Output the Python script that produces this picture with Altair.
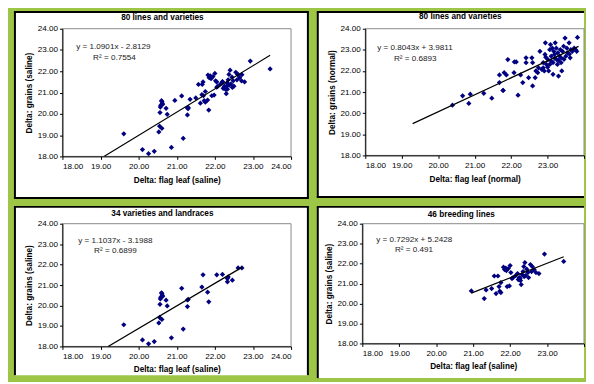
import altair as alt
import pandas as pd

FONT = "Liberation Sans"
TICKS = [18, 19, 20, 21, 22, 23, 24]

# 34 varieties and landraces (saline)
x3 = [19.61, 20.10, 20.26, 20.41, 20.53, 20.55, 20.61, 20.56, 20.57, 20.61, 20.63, 20.72,
      20.75, 20.86, 21.13, 21.17, 21.28, 21.28, 21.66, 21.69, 21.81, 21.84, 22.05, 22.20,
      22.33, 22.33, 22.46, 22.61, 22.71, 20.60, 20.58, 20.62, 21.30, 22.35]
y3 = [19.06, 18.32, 18.13, 18.24, 19.15, 19.42, 19.32, 20.06, 20.32, 20.58, 20.45, 20.26,
      19.98, 18.42, 20.84, 18.85, 20.27, 19.95, 20.90, 21.50, 20.65, 20.18, 21.50, 21.52,
      21.32, 21.16, 21.24, 21.84, 21.84, 20.62, 20.40, 20.50, 20.30, 21.40]

# 46 breeding lines (saline)
x4 = [20.95, 21.30, 21.35, 21.50, 21.57, 21.62, 21.67, 21.70, 21.72, 21.75, 21.75, 21.82,
      21.85, 21.88, 21.90, 21.92, 21.95, 21.98, 22.00, 22.02, 22.05, 22.08, 22.15, 22.20,
      22.22, 22.25, 22.28, 22.30, 22.32, 22.35, 22.37, 22.40, 22.42, 22.45, 22.48, 22.50,
      22.55, 22.58, 22.60, 22.65, 22.70, 22.78, 22.93, 23.45, 22.27, 22.38]
y4 = [20.63, 20.25, 20.68, 20.75, 21.38, 20.50, 21.38, 20.85, 20.62, 20.55, 21.05, 21.82,
      21.70, 21.78, 21.65, 20.85, 21.75, 20.88, 21.90, 21.55, 21.25, 21.30, 21.40, 21.50,
      21.20, 21.30, 21.15, 20.95, 21.45, 21.60, 21.85, 22.05, 21.40, 21.72, 21.55, 21.30,
      21.95, 21.60, 21.85, 21.70, 21.55, 21.50, 22.48, 22.11, 21.25, 21.35]

# 80 lines and varieties (saline) = both groups
x1 = x3 + x4
y1 = y3 + y4

# 80 lines and varieties (normal)
x2 = [20.39, 20.67, 20.84, 20.88, 21.25, 21.47, 21.68, 21.68, 21.78, 21.81, 21.87, 21.91,
      22.08, 22.09, 22.14, 22.19, 22.26, 22.32, 22.41, 22.41, 22.48, 22.57, 22.59, 22.59,
      22.66, 22.68, 22.75, 22.79, 22.84, 22.88, 22.91, 22.93, 22.94, 22.97, 23.01, 23.03,
      23.06, 23.06, 23.10, 23.13, 23.15, 23.19, 23.21, 23.24, 23.25, 23.28, 23.30, 23.33,
      23.35, 23.37, 23.39, 23.41, 23.44, 23.48, 23.50, 23.53, 23.55, 23.59, 23.62, 23.64,
      23.68, 23.73, 23.77, 23.82, 23.80, 21.78, 23.10, 23.00, 23.17, 23.08, 23.27, 23.37,
      22.88, 22.73, 23.45, 23.20, 22.95, 23.30, 23.60, 23.15]
y2 = [20.38, 20.82, 20.46, 20.90, 20.94, 20.71, 21.45, 21.81, 21.08, 21.92, 21.81, 22.54,
      21.92, 22.43, 22.43, 20.85, 21.81, 21.45, 22.62, 22.39, 21.68, 22.62, 22.39, 21.29,
      21.68, 22.00, 22.15, 22.93, 22.07, 22.39, 22.00, 22.78, 23.33, 22.31, 22.54, 22.00,
      22.31, 23.01, 22.70, 23.08, 21.84, 22.78, 23.33, 23.08, 22.54, 22.86, 21.76, 22.70,
      23.01, 22.62, 22.00, 22.93, 23.17, 23.56, 22.70, 23.08, 22.86, 23.33, 22.62, 23.01,
      22.93, 23.08, 23.01, 23.59, 22.93, 21.08, 22.47, 22.18, 22.93, 23.25, 22.31, 22.39,
      22.15, 21.92, 22.55, 22.60, 22.65, 22.50, 22.80, 22.40]

titles = ["80 lines and varieties", "80 lines and varieties",
          "34 varieties and landraces", "46 breeding lines"]
x_titles = ["Delta: flag leaf (saline)", "Delta: flag leaf (normal)",
            "Delta: flag leaf (saline)", "Delta: flag leaf (saline)"]
y_titles = ["Delta: grains (saline)", "Delta: grains (normal)",
            "Delta: grains (saline)", "Delta: grains (saline)"]
equations = ["y = 1.0901x - 2.8129", "y = 0.8043x + 3.9811",
             "y = 1.1037x - 3.1988", "y = 0.7292x + 5.2428"]
r2_texts = ["R² = 0.7554", "R² = 0.6893", "R² = 0.6899", "R² = 0.491"]
slopes = [1.0901, 0.8043, 1.1037, 0.7292]
intercepts = [-2.8129, 3.9811, -3.1988, 5.2428]
trend_x = [[19.1, 23.45], [19.3, 23.85], [19.2, 22.72], [20.95, 23.45]]


def panel(xs, ys, i, w, h, frame, borders, eqpos, r2pos, tpos, hide_last, xtp):
    fl, ft, fr, fb = frame
    one = pd.DataFrame({"k": [0]})
    pts = pd.DataFrame({"x": xs, "y": ys})
    tx = trend_x[i]
    line_df = pd.DataFrame({"x": tx, "y": [slopes[i] * v + intercepts[i] for v in tx]})

    lab_expr = ("datum.value == 24 ? '' : format(datum.value, '.2f')" if hide_last
                else "format(datum.value, '.2f')")
    ax_common = dict(values=TICKS, labelFont=FONT, labelFontSize=8.2, labelColor="black",
                     titleFont=FONT, titleFontSize=8.3, titleFontWeight="bold", titleColor="black",
                     domainColor="black", domainWidth=1, tickColor="black", tickSize=3,
                     grid=False, zindex=1)
    xenc = alt.X("x:Q", scale=alt.Scale(domain=[18, 24], nice=False, zero=False),
                 axis=alt.Axis(title=x_titles[i], labelExpr=lab_expr, labelPadding=3,
                               titlePadding=xtp, **ax_common))
    yenc = alt.Y("y:Q", scale=alt.Scale(domain=[18, 24], nice=False, zero=False),
                 axis=alt.Axis(title=y_titles[i], format=".2f", labelPadding=2,
                               titlePadding=4, **ax_common))

    layers = [alt.Chart(one).mark_rect(fill="white", strokeWidth=0).encode(
        x=alt.value(fl), x2=alt.value(fr), y=alt.value(ft), y2=alt.value(fb))]
    L, T, R, B = borders
    if L:
        layers.append(alt.Chart(one).mark_rule(color="black", strokeWidth=2).encode(
            x=alt.value(fl), y=alt.value(ft), y2=alt.value(fb)))
    if T:
        layers.append(alt.Chart(one).mark_rule(color="black", strokeWidth=2).encode(
            x=alt.value(fl - 1), x2=alt.value(fr + (1 if R else 0)), y=alt.value(ft)))
    if R:
        layers.append(alt.Chart(one).mark_rule(color="black", strokeWidth=2).encode(
            x=alt.value(fr), y=alt.value(ft), y2=alt.value(fb)))
    if B:
        layers.append(alt.Chart(one).mark_rule(color="black", strokeWidth=2).encode(
            x=alt.value(fl - 1), x2=alt.value(fr + (1 if R else 0)), y=alt.value(fb)))
    layers.append(alt.Chart(one).mark_rect(fill="white", stroke="#8a8a8a", strokeWidth=1).encode(
        x=alt.value(0), x2=alt.value(w), y=alt.value(0), y2=alt.value(h)))
    layers.append(alt.Chart(pts).mark_point(shape="diamond", filled=True, size=28,
                                            color="#000080", opacity=1).encode(x=xenc, y=yenc))
    layers.append(alt.Chart(line_df).mark_line(color="black", strokeWidth=1.2).encode(x=xenc, y=yenc))
    layers.append(alt.Chart(one).mark_text(text=titles[i], font=FONT, fontSize=8.3, fontWeight="bold",
                                           align="center", baseline="middle", color="black").encode(
        x=alt.value(tpos[0]), y=alt.value(tpos[1])))
    layers.append(alt.Chart(one).mark_text(text=equations[i], font=FONT, fontSize=8.2,
                                           align="left", baseline="middle", color="#1a1a1a").encode(
        x=alt.value(eqpos[0]), y=alt.value(eqpos[1])))
    layers.append(alt.Chart(one).mark_text(text=r2_texts[i], font=FONT, fontSize=8.2,
                                           align="left", baseline="middle", color="#1a1a1a").encode(
        x=alt.value(r2pos[0]), y=alt.value(r2pos[1])))
    return alt.layer(*layers).properties(width=w, height=h)


p1 = panel(x1, y1, 0, 231, 129, (-48, -17, 248, 171), (True, True, True, True),
           (14, 18), (31, 30), (101, -11), False, 6)
p2 = panel(x2, y2, 1, 221, 128, (-48, -17, 221, 170), (True, True, False, True),
           (12, 19), (29, 31), (96, -12), True, 6)
p3 = panel(x3, y3, 2, 231, 124, (-48, -17, 248, 153), (True, True, True, False),
           (16, 17), (32, 28), (101, -10), False, 5)
p4 = panel(x4, y4, 3, 224, 121, (-45, -17, 224, 156), (True, True, False, False),
           (14, 16), (33, 27), (100, -9), True, 5)

row1 = alt.hconcat(p1, p2, spacing=4)
row2 = alt.hconcat(p3, p4, spacing=4)
chart = alt.vconcat(row1, row2, spacing=5).properties(
    background="#9dc646",
    padding={"left": 4, "top": 0, "right": 0, "bottom": 0},
).configure_view(stroke="transparent", fill="transparent")

chart.save("out.html", embed_options={"renderer": "svg", "actions": False})
